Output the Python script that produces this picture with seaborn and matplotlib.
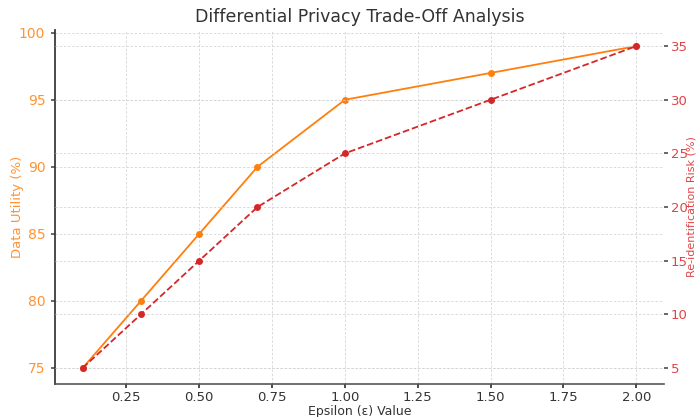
import matplotlib
matplotlib.use("Agg")
import matplotlib.pyplot as plt
import seaborn as sns
import pandas as pd

epsilon = [0.1, 0.3, 0.5, 0.7, 1.0, 1.5, 2.0]
utility = [75, 80, 85, 90, 95, 97, 99]
risk = [5, 10, 15, 20, 25, 30, 35]

df = pd.DataFrame({"epsilon": epsilon, "utility": utility, "risk": risk})

sns.set_theme(style="white")
plt.rcParams['font.family'] = ['DejaVu Sans']

fig, ax1 = plt.subplots(figsize=(6.96, 4.17), dpi=100)
fig.subplots_adjust(left=0.079, right=0.954, top=0.928, bottom=0.079)
orange = "#ff7f0e"
red = "#d62728"
orange_txt = "#ff9333"
red_txt = "#e04448"

sns.lineplot(data=df, x="epsilon", y="utility", ax=ax1, color=orange, marker="o",
             markersize=5, markeredgewidth=0, linewidth=1.3)
ax1.set_xlabel("Epsilon (ε) Value", fontsize=9, color="#333333")
ax1.set_ylabel("Data Utility (%)", fontsize=9.5, color=orange_txt)
ax1.tick_params(axis="y", labelcolor=orange_txt, labelsize=10, left=True, length=3,
                color="#555555", pad=4)
ax1.tick_params(axis="x", labelsize=9.5, colors="#333333", bottom=True, length=3, pad=2)
ax1.set_yticks([75, 80, 85, 90, 95, 100])
ax1.grid(True, linestyle=(0, (3, 2)), color="#d5d5d5", linewidth=0.6)
ax1.yaxis.set_label_coords(-0.051, 0.5)
ax1.xaxis.set_label_coords(0.5, -0.059)

ax2 = ax1.twinx()
sns.lineplot(data=df, x="epsilon", y="risk", ax=ax2, color=red, marker="o",
             markersize=5, markeredgewidth=0, linewidth=1.3, linestyle="--")
ax2.set_ylabel("Re-identification Risk (%)", fontsize=8, color=red_txt)
ax2.tick_params(axis="y", labelcolor=red_txt, labelsize=9.5, right=True, length=3,
                color="#555555", pad=2)
ax2.set_yticks([5, 10, 15, 20, 25, 30, 35])
ax2.grid(True, linestyle=(0, (3, 2)), color="#d5d5d5", linewidth=0.6)
ax2.yaxis.set_label_coords(1.037, 0.5)

for ax in (ax1, ax2):
    ax.spines["top"].set_visible(False)
    ax.spines["right"].set_visible(False)
ax1.spines["left"].set_color("#333333")
ax1.spines["bottom"].set_color("#555555")
ax1.spines["bottom"].set_linewidth(1.2)
ax2.spines["left"].set_visible(False)
ax2.spines["bottom"].set_visible(False)

ax1.set_title("Differential Privacy Trade-Off Analysis", fontsize=12.5, color="#333333", pad=6)
fig.savefig("out.png", dpi=100)
